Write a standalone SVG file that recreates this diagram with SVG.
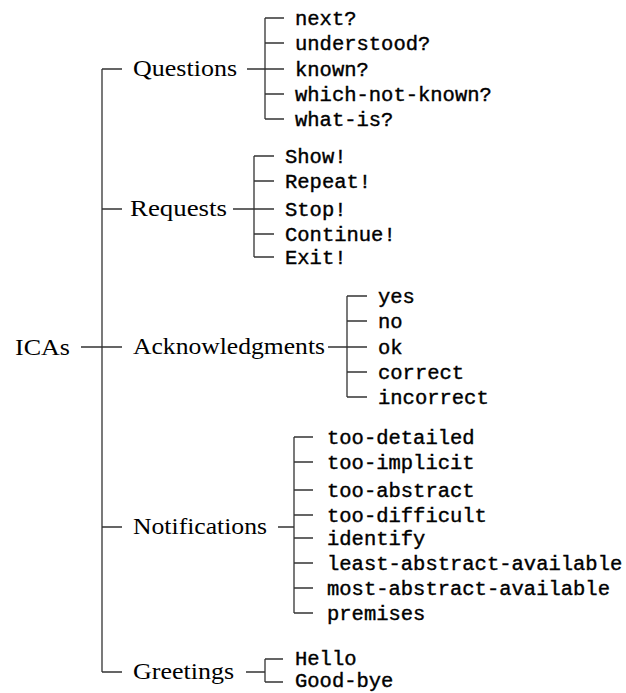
<svg xmlns="http://www.w3.org/2000/svg" width="626" height="693" viewBox="0 0 626 693">
  <style>
    .bg { fill: #ffffff; }
    .cat { font-family: "Liberation Serif", "DejaVu Serif", serif; font-size: 24px; fill: #000; }
    .act { font-family: "Liberation Mono", "DejaVu Sans Mono", monospace; font-size: 20.5px; fill: #000; stroke: #000; stroke-width: 0.4px; }
    .wire { fill: none; stroke: #333; stroke-width: 1.3px; }
  </style>
  <rect class="bg" x="0" y="0" width="626" height="693"/>

  <!-- tree connectors -->
  <g id="connectors">
    <!-- root -->
    <path class="wire" d="M81 347 H102 M102 69 V672 M102 69 H122 M102 209 H122 M102 347 H122 M102 527 H122 M102 672 H122"/>
    <!-- Questions -->
    <path class="wire" d="M247 69 H265 M265 18 V119 M265 18 H284 M265 43 H284 M265 69 H284 M265 94 H284 M265 119 H284"/>
    <!-- Requests -->
    <path class="wire" d="M233 209 H254 M254 156 V257 M254 156 H274 M254 181 H274 M254 209 H274 M254 234 H274 M254 257 H274"/>
    <!-- Acknowledgments -->
    <path class="wire" d="M328 347 H347 M347 296 V397 M347 296 H367 M347 321 H367 M347 347 H367 M347 372 H367 M347 397 H367"/>
    <!-- Notifications -->
    <path class="wire" d="M278 527 H294 M294 437 V613 M294 437 H313 M294 462 H313 M294 490 H313 M294 515 H313 M294 538 H313 M294 563 H313 M294 588 H313 M294 613 H313"/>
    <!-- Greetings -->
    <path class="wire" d="M246 672 H265 M265 659 V682 M265 659 H283 M265 682 H283"/>
  </g>

  <g id="root">
    <text class="cat" x="15" y="355" textLength="55" lengthAdjust="spacingAndGlyphs">ICAs</text>
  </g>

  <g id="questions">
    <text class="cat" x="133" y="76" textLength="104" lengthAdjust="spacingAndGlyphs">Questions</text>
    <g id="questions-items">
      <text class="act" x="295" y="25">next?</text>
      <text class="act" x="295" y="50">understood?</text>
      <text class="act" x="295" y="76">known?</text>
      <text class="act" x="295" y="101">which-not-known?</text>
      <text class="act" x="295" y="126">what-is?</text>
    </g>
  </g>

  <g id="requests">
    <text class="cat" x="130" y="216" textLength="97" lengthAdjust="spacingAndGlyphs">Requests</text>
    <g id="requests-items">
      <text class="act" x="285" y="163">Show!</text>
      <text class="act" x="285" y="188">Repeat!</text>
      <text class="act" x="285" y="216">Stop!</text>
      <text class="act" x="285" y="241">Continue!</text>
      <text class="act" x="285" y="264">Exit!</text>
    </g>
  </g>

  <g id="acknowledgments">
    <text class="cat" x="133" y="354" textLength="192" lengthAdjust="spacingAndGlyphs">Acknowledgments</text>
    <g id="acknowledgments-items">
      <text class="act" x="378" y="303">yes</text>
      <text class="act" x="378" y="328">no</text>
      <text class="act" x="378" y="354">ok</text>
      <text class="act" x="378" y="379">correct</text>
      <text class="act" x="378" y="404">incorrect</text>
    </g>
  </g>

  <g id="notifications">
    <text class="cat" x="133" y="534" textLength="134" lengthAdjust="spacingAndGlyphs">Notifications</text>
    <g id="notifications-items">
      <text class="act" x="327" y="444">too-detailed</text>
      <text class="act" x="327" y="469">too-implicit</text>
      <text class="act" x="327" y="497">too-abstract</text>
      <text class="act" x="327" y="522">too-difficult</text>
      <text class="act" x="327" y="545">identify</text>
      <text class="act" x="327" y="570">least-abstract-available</text>
      <text class="act" x="327" y="595">most-abstract-available</text>
      <text class="act" x="327" y="620">premises</text>
    </g>
  </g>

  <g id="greetings">
    <text class="cat" x="133" y="679" textLength="101" lengthAdjust="spacingAndGlyphs">Greetings</text>
    <g id="greetings-items">
      <text class="act" x="295" y="665">Hello</text>
      <text class="act" x="295" y="687">Good-bye</text>
    </g>
  </g>
</svg>
